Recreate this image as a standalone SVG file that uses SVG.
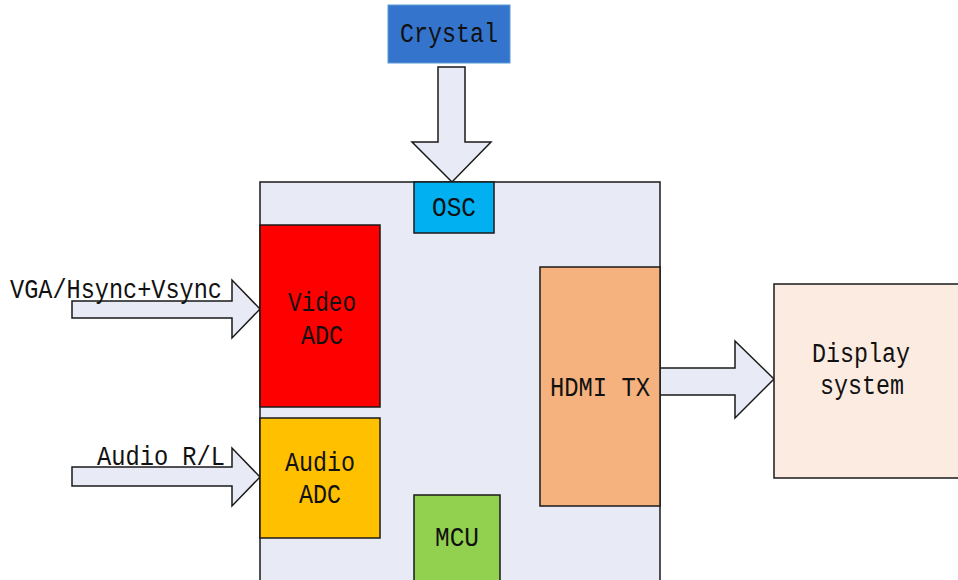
<svg xmlns="http://www.w3.org/2000/svg" width="958" height="580" viewBox="0 0 958 580">
<style>
text{font-family:"Liberation Mono","Noto Sans CJK SC",monospace;font-size:27px;fill:#111;text-anchor:middle}
.box{stroke:#1a1a1a;stroke-width:1.5}
.arrow{fill:#E8EBF5;stroke:#1a1a1a;stroke-width:1.5;stroke-linejoin:miter}
</style>
<rect width="958" height="580" fill="#fff"/>
<g id="crystal">
<rect x="388" y="5" width="122" height="58" fill="#3574CC" stroke="#5B9BD5" stroke-width="1"/>
<text x="449" y="42" textLength="98" lengthAdjust="spacingAndGlyphs">Crystal</text>
</g>
<g id="chip">
<rect class="box" x="260" y="182" width="400" height="410" fill="#E8EBF5"/>
</g>
<g id="connectors">
<polygon class="arrow" points="438,67 465,67 465,142 491,142 452,182 412,142 438,142"/>
<polygon class="arrow" points="72,301 232,301 232,280 260,309 232,338 232,318 72,318"/>
<polygon class="arrow" points="72,467 232,467 232,448 260,477 232,506 232,486 72,486"/>
<polygon class="arrow" points="660,368 735,368 735,341 774,379 735,418 735,395 660,395"/>
</g>
<g id="osc">
<rect class="box" x="414" y="182" width="80" height="51" fill="#00B0F0"/>
<text x="454" y="216" textLength="44" lengthAdjust="spacingAndGlyphs">OSC</text>
</g>
<g id="video-adc">
<rect class="box" x="260" y="225" width="120" height="182" fill="#FF0000"/>
<text x="322" y="311" textLength="68" lengthAdjust="spacingAndGlyphs">Video</text>
<text x="322" y="344" textLength="42" lengthAdjust="spacingAndGlyphs">ADC</text>
</g>
<g id="audio-adc">
<rect class="box" x="260" y="418" width="120" height="120" fill="#FFC000"/>
<text x="320" y="471" textLength="70" lengthAdjust="spacingAndGlyphs">Audio</text>
<text x="320" y="503" textLength="42" lengthAdjust="spacingAndGlyphs">ADC</text>
</g>
<g id="mcu">
<rect class="box" x="414" y="495" width="86" height="95" fill="#92D050"/>
<text x="457" y="546" textLength="44" lengthAdjust="spacingAndGlyphs">MCU</text>
</g>
<g id="hdmi-tx">
<rect class="box" x="540" y="267" width="120" height="239" fill="#F5B17E"/>
<text x="600" y="396" textLength="100" lengthAdjust="spacingAndGlyphs">HDMI TX</text>
</g>
<g id="display">
<rect class="box" x="774" y="284" width="190" height="194" fill="#FBEBE0"/>
<text x="861" y="362" textLength="98" lengthAdjust="spacingAndGlyphs">Display</text>
<text x="862" y="394" textLength="84" lengthAdjust="spacingAndGlyphs">system</text>
</g>
<g id="labels">
<text x="116" y="298" textLength="212" lengthAdjust="spacingAndGlyphs">VGA/Hsync+Vsync</text>
<text x="161" y="465" textLength="128" lengthAdjust="spacingAndGlyphs">Audio R/L</text>
</g>
</svg>
